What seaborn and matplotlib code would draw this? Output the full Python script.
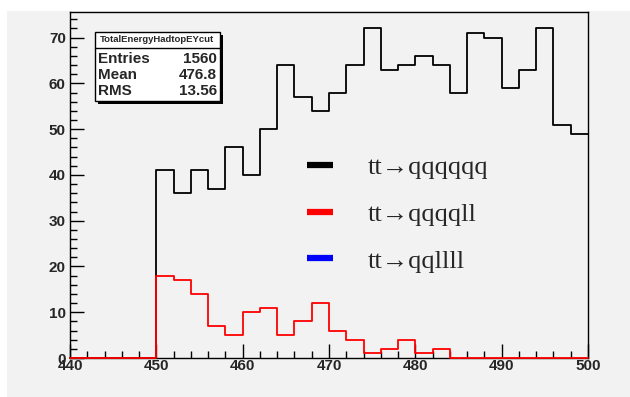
import numpy as np
import pandas as pd
import matplotlib
matplotlib.use("Agg")
import matplotlib.pyplot as plt
from matplotlib.lines import Line2D
from matplotlib.patches import Rectangle
from matplotlib.ticker import MultipleLocator
import seaborn as sns

# ---- data ----
bin_edges = list(range(440, 502, 2))
black_counts = [0, 0, 0, 0, 0,
                41, 36, 41, 37, 46, 40, 50, 64, 57, 54, 58, 64, 72, 63, 64,
                66, 64, 58, 71, 70, 59, 63, 72, 51, 49]
red_counts = [0, 0, 0, 0, 0,
              18, 17, 14, 7, 5, 10, 11, 5, 8, 12, 6, 4, 1, 2, 4, 1, 2,
              0, 0, 0, 0, 0, 0, 0, 0]
legend_labels = ["tt\u2192qqqqqq", "tt\u2192qqqqll", "tt\u2192qqllll"]
legend_colors = ["black", "red", "blue"]
stats_title = "TotalEnergyHadtopEYcut"
stats_names = ["Entries", "Mean", "RMS"]
stats_values = ["1560", "476.8", "13.56"]
x_ticks = [440, 450, 460, 470, 480, 490, 500]
y_ticks = [0, 10, 20, 30, 40, 50, 60, 70]

centers = [(a + b) / 2 for a, b in zip(bin_edges[:-1], bin_edges[1:])]
df = pd.DataFrame({"x": centers, "black": black_counts, "red": red_counts})

sns.set_theme(style="white")
plt.rcParams["font.family"] = ["Liberation Sans", "DejaVu Sans"]

W, H = 630, 397
fig = plt.figure(figsize=(W / 100, H / 100), dpi=100, facecolor="white")
bg = "#f2f2f2"
fig.patches.append(Rectangle((7 / W, 0), 1 - 7 / W, (H - 11) / H,
                             transform=fig.transFigure, facecolor=bg,
                             edgecolor="none", zorder=-10))

ax = fig.add_axes([70 / W, (H - 358) / H, (588 - 70) / W, (358 - 12) / H])
ax.set_facecolor(bg)

sns.histplot(data=df, x="x", weights="black", binwidth=2, binrange=(440, 500),
             element="step", fill=False, color="black", linewidth=1.3, ax=ax)
sns.histplot(data=df, x="x", weights="red", binwidth=2, binrange=(440, 500),
             element="step", fill=False, color="red", linewidth=1.3, ax=ax)
for ln in ax.lines:
    ln.set_zorder(3)
    ln.set_clip_on(False)

ax.set_xlim(440, 500)
ax.set_ylim(0, 75.6)
ax.set_xlabel("")
ax.set_ylabel("")
ax.set_xticks(x_ticks)
ax.set_yticks(y_ticks)
ax.xaxis.set_minor_locator(MultipleLocator(2))
ax.yaxis.set_minor_locator(MultipleLocator(2))
ax.tick_params(axis="both", which="major", direction="in", length=10, width=1,
               color="black", labelsize=11)
ax.tick_params(axis="both", which="minor", direction="in", length=5, width=1,
               color="black")
ax.tick_params(axis="x", which="both", bottom=True, top=False, pad=1)
ax.tick_params(axis="y", which="both", left=True, right=False, pad=3)
for lab in ax.get_xticklabels() + ax.get_yticklabels():
    lab.set_fontweight("bold")
for s in ax.spines.values():
    s.set_color("black")
    s.set_linewidth(1.0)
    s.set_visible(True)

# legend
handles = [Line2D([], [], color=c, lw=4.5, solid_capstyle="butt") for c in legend_colors]
leg = ax.legend(handles, legend_labels, loc="upper left",
                bbox_to_anchor=(283 / W, (H - 132) / H),
                bbox_transform=fig.transFigure, frameon=False,
                prop={"family": ["Liberation Serif", "DejaVu Serif"], "size": 19},
                handlelength=1.0, handletextpad=1.3, labelspacing=0.88)

# stats box
def fx(px):
    return px / W

def fy(py):
    return (H - py) / H

bx0, by0, bx1, by1 = 95, 32, 220, 101
fig.patches.append(Rectangle((fx(bx0 + 3), fy(by1 + 3)), (bx1 - bx0) / W, (by1 - by0) / H,
                             transform=fig.transFigure, facecolor="black",
                             edgecolor="none", zorder=5))
fig.patches.append(Rectangle((fx(bx0), fy(by1)), (bx1 - bx0) / W, (by1 - by0) / H,
                             transform=fig.transFigure, facecolor="white",
                             edgecolor="black", linewidth=1.0, zorder=6))
fig.add_artist(Line2D([fx(bx0), fx(bx1)], [fy(48), fy(48)], color="black",
                      lw=1.0, transform=fig.transFigure, zorder=7))
fig.text(fx((bx0 + bx1) / 2), fy(40), stats_title, ha="center", va="center",
         fontsize=6.8, fontweight="bold", zorder=8)
for i, (n, v) in enumerate(zip(stats_names, stats_values)):
    yy = fy(59 + i * 16)
    fig.text(fx(98), yy, n, ha="left", va="center", fontsize=11,
             fontweight="bold", zorder=8)
    fig.text(fx(217), yy, v, ha="right", va="center", fontsize=11,
             fontweight="bold", zorder=8)

fig.savefig("out.png", dpi=100, facecolor="white")
